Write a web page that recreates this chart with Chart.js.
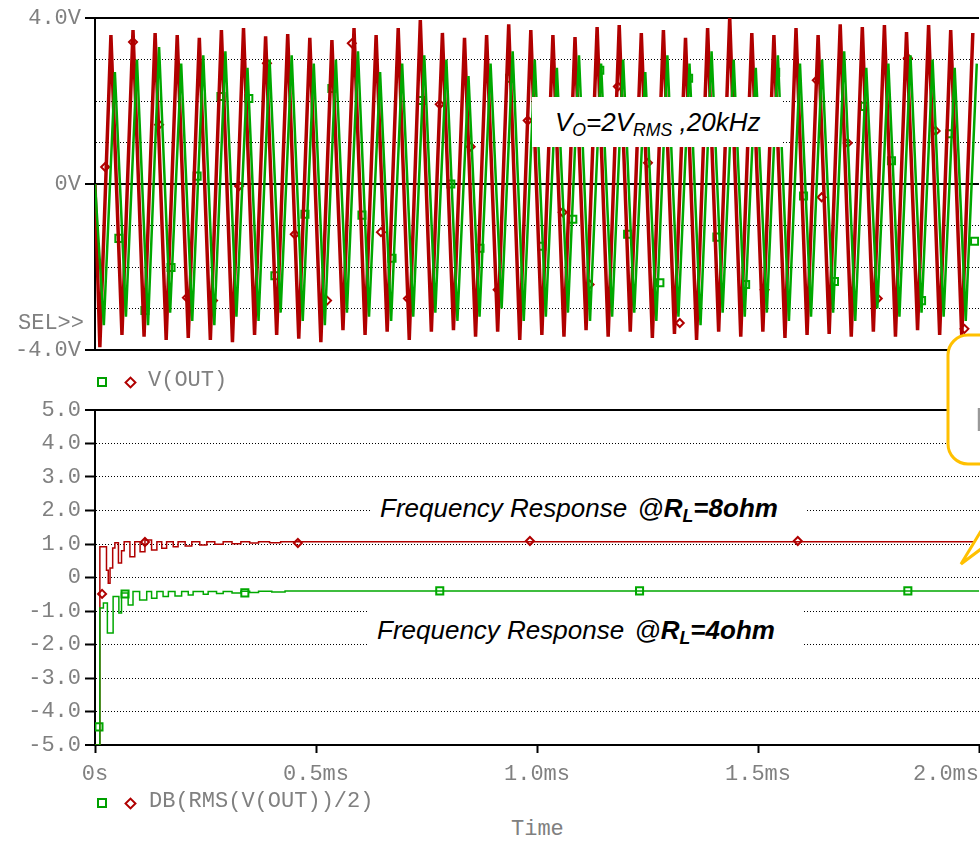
<!DOCTYPE html>
<html>
<head>
<meta charset="utf-8">
<script src="https://cdn.jsdelivr.net/npm/chart.js@4.4.0/dist/chart.umd.min.js"></script>
<style>
  html, body { margin: 0; padding: 0; background: #fff; }
  body { width: 980px; height: 842px; position: relative; overflow: hidden; }
  canvas { position: absolute; left: 0; }
  #topChart { top: 0; }
  #botChart { top: 390px; }
  .mono { position: absolute; font-family: 'Liberation Mono', monospace; font-size: 22px; line-height: 22px; color: #808080; white-space: pre; }
  .sq { position: absolute; width: 6px; height: 6px; border: 2px solid #00a000; }
  .dm { position: absolute; width: 5px; height: 5px; border: 2px solid #b00000; transform: rotate(45deg); }
  .note { position: absolute; background: #fff; font-family: 'Liberation Sans', Arial, sans-serif; font-style: italic; color: #000; white-space: nowrap; }
  .note sub { font-size: 0.68em; vertical-align: -0.3em; line-height: 0; }
  .note b { font-weight: bold; }
</style>
</head>
<body>
<canvas id="topChart" width="980" height="360"></canvas>
<canvas id="botChart" width="980" height="400"></canvas>

<div class="mono" style="left:18px;top:313px">SEL&gt;&gt;</div>

<div class="sq" style="left:97px;top:377px"></div>
<div class="dm" style="left:126px;top:378px"></div>
<div class="mono" style="left:148px;top:370px">V(OUT)</div>

<div class="sq" style="left:97px;top:798px"></div>
<div class="dm" style="left:126px;top:799px"></div>
<div class="mono" style="left:149px;top:791px">DB(RMS(V(OUT))/2)</div>

<div class="mono" style="left:511px;top:819px">Time</div>

<div class="note" style="left:532px;top:97px;width:228px;height:50px;padding-left:23px;line-height:50px;font-size:26px">V<sub>O</sub>=2V<sub>RMS</sub> ,20kHz</div>
<div class="note" style="left:370px;top:488px;width:425px;height:40px;padding-left:10px;line-height:40px;font-size:26px">Frequency Response <span style="margin-left:3px">@</span><b>R<sub>L</sub>=8ohm</b></div>
<div class="note" style="left:368px;top:604px;width:425px;height:52px;padding-left:9px;line-height:52px;font-size:26px">Frequency Response <span style="margin-left:3px">@</span><b>R<sub>L</sub>=4ohm</b></div>

<svg style="position:absolute;left:0;top:0" width="980" height="842">
  <rect x="948" y="335" width="80" height="129" rx="20" ry="20" fill="#fff" stroke="#ffc000" stroke-width="3"/>
  <polyline points="981,531 961,564 981,549" fill="#fff" stroke="#ffc000" stroke-width="3"/>
</svg>
<div class="note" style="left:975px;top:400px;font-size:34px;font-style:normal;color:#999;background:none">D</div>

<script>
// top panel: V(OUT), 20 kHz, one peak / trough per cycle (volts)
const period = 0.05; // ms
const redPeaks = [3.59, 3.71, 3.64, 3.59, 3.52, 3.71, 3.76, 3.56, 3.61, 3.52,
                  3.47, 3.76, 3.59, 3.76, 3.95, 3.64, 3.52, 3.59, 3.85, 3.71,
                  3.59, 3.54, 3.78, 3.83, 3.64, 3.71, 3.52, 3.76, 4.02, 3.64,
                  3.59, 3.76, 3.59, 3.85, 3.78, 3.83, 3.66, 3.83, 3.71, 3.64];
const redTroughs = [-3.93, -3.64, -3.68, -3.76, -3.71, -3.76, -3.81, -3.64, -3.64, -3.73,
                    -3.81, -3.52, -3.64, -3.56, -3.76, -3.56, -3.52, -3.68, -3.56, -3.76,
                    -3.64, -3.68, -3.52, -3.68, -3.56, -3.71, -3.61, -3.76, -3.56, -3.68,
                    -3.56, -3.71, -3.64, -3.61, -3.68, -3.56, -3.68, -3.52, -3.64, -3.68];
const greenPeaks = [2.7, 3.0, 3.3, 2.9, 3.1, 3.2, 2.8, 3.0, 3.1, 2.9,
                    3.0, 3.2, 2.7, 2.9, 3.1, 3.0, 2.6, 2.9, 3.2, 3.0,
                    2.8, 3.1, 2.9, 3.0, 2.7, 3.1, 2.9, 3.2, 3.0, 2.8,
                    3.1, 2.9, 3.0, 3.2, 2.8, 2.9, 3.1, 3.0, 2.8, 2.9];
const greenTroughs = [-3.4, -3.2, -3.4, -3.1, -3.3, -3.4, -3.2, -3.3, -3.1, -3.3,
                      -3.4, -3.1, -3.2, -3.3, -3.2, -3.1, -3.3, -3.2, -3.0, -3.3,
                      -3.2, -3.1, -3.3, -3.2, -3.1, -3.3, -3.2, -3.4, -3.1, -3.2,
                      -3.1, -3.3, -3.2, -3.1, -3.3, -3.0, -3.2, -3.1, -3.2, -3.3];

// marker symbols on the top traces (ms, V)
const redMarkTopT = [0.023, 0.086, 0.145, 0.208, 0.267, 0.326, 0.389, 0.452, 0.525, 0.581, 0.647, 0.708, 0.780, 0.850, 0.911,
                     0.979, 1.058, 1.119, 1.183, 1.251, 1.323, 1.515, 1.633, 1.644, 1.703, 1.771, 1.839, 1.902, 1.967];
const redMarkTopV = [0.41, 3.42, 1.43, -2.74, -2.81, -0.05, 2.91, -1.21, -2.81, 3.39, -1.16, -2.76, 1.92, 0.90, -2.55,
                     1.53, -0.68, -2.42, 2.35, 0.51, -3.35, -2.55, 2.50, -0.32, 0.99, -2.76, 3.03, 1.28, -3.49];
const greenMarkTopT = [0.054, 0.113, 0.172, 0.231, 0.285, 0.348, 0.407, 0.475, 0.536, 0.604, 0.672, 0.739, 0.805, 0.871, 0.938, 1.011,
                       1.081, 1.142, 1.205, 1.278, 1.343, 1.407, 1.472, 1.540, 1.603, 1.673, 1.741, 1.802, 1.870, 1.934, 1.990];
const greenMarkTopV = [-1.31, -3.05, -2.01, 0.19, 2.11, 2.06, -2.21, -0.73, 2.30, -0.75, -1.79, 2.01, 0.00, -1.55, 2.55, -1.50,
                       -0.85, 2.74, -1.21, -2.38, 2.55, -1.28, -2.42, 2.69, -0.29, -2.35, 1.87, 0.56, -2.81, 1.21, -1.38];

// bottom panel: DB(RMS(V(OUT))/2)
const rl8Time = [0, 0.011, 0.026, 0.030, 0.034, 0.040, 0.045, 0.053, 0.060, 0.066, 0.079, 0.090, 0.102, 0.113, 0.128, 0.140,
                 0.151, 0.162, 0.177, 0.188, 0.204, 0.219, 0.237, 0.253, 0.271, 0.290, 0.310, 0.330, 0.350, 0.370, 0.395, 0.420, 2.0];
const rl8Db = [-5, 0.92, 0.22, -0.17, 0.28, 0.88, 1.04, 0.43, 0.80, 1.07, 0.62, 1.07, 0.77, 1.12, 0.82, 1.07,
               0.87, 1.07, 0.92, 1.07, 0.94, 1.07, 0.97, 1.07, 0.99, 1.07, 1.01, 1.07, 1.03, 1.07, 1.04, 1.07, 1.08];
const rl4Time = [0, 0.011, 0.019, 0.028, 0.041, 0.054, 0.060, 0.075, 0.086, 0.101, 0.117, 0.128, 0.140, 0.154, 0.166,
                 0.181, 0.196, 0.211, 0.222, 0.245, 0.256, 0.275, 0.290, 0.310, 0.330, 0.350, 0.370, 0.400, 0.430, 2.0];
const rl4Db = [-5, -0.91, -0.76, -1.66, -0.57, -1.06, -0.46, -0.82, -0.42, -0.67, -0.42, -0.62, -0.42, -0.57, -0.42,
               -0.55, -0.42, -0.52, -0.42, -0.50, -0.42, -0.48, -0.42, -0.46, -0.41, -0.45, -0.41, -0.43, -0.40, -0.40];
const rl8MarkT = [0.016, 0.113, 0.459, 0.984, 1.590];
const rl8MarkV = [-0.49, 1.06, 1.03, 1.09, 1.09];
const rl4MarkT = [0.009, 0.068, 0.339, 0.780, 1.232, 1.839];
const rl4MarkV = [-4.46, -0.49, -0.46, -0.40, -0.40, -0.40];

// tick labels
const topYLabels = ['-4.0V', '', '', '', '0V', '', '', '', '4.0V'];
const botYLabels = ['-5.0', '-4.0', '-3.0', '-2.0', '-1.0', '0', '1.0', '2.0', '3.0', '4.0', '5.0'];
const xTickLabels = ['0s', '0.5ms', '1.0ms', '1.5ms', '2.0ms'];

const RED = '#b00000';
const GREEN = '#00a800';
const monoFont = { family: 'Liberation Mono', size: 22 };
const tickGrey = '#808080';

function wave(peaks, troughs, troughAt, peakAt) {
    const pts = [{ x: 0, y: 0 }];
    for (let i = 0; i < peaks.length; i++) {
        pts.push({ x: troughAt + i * period, y: troughs[i] });
        pts.push({ x: peakAt + i * period, y: peaks[i] });
    }
    return pts;
}
function pairs(xs, ys) {
    return xs.map((x, i) => ({ x: x, y: ys[i] }));
}
function markers(xs, ys, color, style, r) {
    return { data: pairs(xs, ys), showLine: false, pointStyle: style, pointRadius: r,
             borderColor: color, pointBorderColor: color, pointBorderWidth: 2,
             pointBackgroundColor: 'rgba(0,0,0,0)' };
}
// no automatic label padding, the plot area is fixed
function noPad(s) {
    s.paddingLeft = 0; s.paddingRight = 0; s.paddingTop = 0; s.paddingBottom = 0;
}
function yAxis(min, max, labels, isEdge) {
    return {
        min: min, max: max,
        afterFit: s => { s.width = 95; noPad(s); },
        ticks: { stepSize: 1, autoSkip: false, font: monoFont, color: tickGrey, padding: 4,
                 callback: v => labels[Math.round(v) - min] },
        grid: {
            color: '#000',
            lineWidth: c => (c.tick && isEdge(c.tick.value)) ? 2 : 1,
            tickLength: 10, tickWidth: 2,
            tickColor: c => labels[c.index] ? '#000' : 'rgba(0,0,0,0)'
        },
        border: { color: '#000', width: 2,
                  dash: c => (c.tick && !isEdge(c.tick.value)) ? [1, 2] : [] }
    };
}

new Chart(document.getElementById('topChart'), {
    type: 'line',
    data: {
        datasets: [
            { data: wave(greenPeaks, greenTroughs, 0.020, 0.045), borderColor: GREEN, borderWidth: 2.5, pointRadius: 0 },
            { data: wave(redPeaks, redTroughs, 0.011, 0.036), borderColor: RED, borderWidth: 3.5, pointRadius: 0 },
            markers(greenMarkTopT, greenMarkTopV, GREEN, 'rect', 5),
            markers(redMarkTopT, redMarkTopV, RED, 'rectRot', 4)
        ]
    },
    options: {
        responsive: false, animation: false,
        layout: { autoPadding: false, padding: { top: 18, bottom: 10, left: 0, right: 1 } },
        plugins: { legend: { display: false }, tooltip: { enabled: false } },
        scales: {
            x: { type: 'linear', min: 0, max: 2, display: false },
            y: yAxis(-4, 4, topYLabels, v => v === 0 || Math.abs(v) === 4)
        }
    }
});

new Chart(document.getElementById('botChart'), {
    type: 'line',
    data: {
        datasets: [
            { data: pairs(rl4Time, rl4Db), stepped: true, borderColor: GREEN, borderWidth: 1.5, pointRadius: 0 },
            { data: pairs(rl8Time, rl8Db), stepped: true, borderColor: RED, borderWidth: 1.5, pointRadius: 0 },
            markers(rl4MarkT, rl4MarkV, GREEN, 'rect', 5),
            markers(rl8MarkT, rl8MarkV, RED, 'rectRot', 4)
        ]
    },
    options: {
        responsive: false, animation: false,
        layout: { autoPadding: false, padding: { top: 20, bottom: 0, left: 0, right: 1 } },
        plugins: { legend: { display: false }, tooltip: { enabled: false } },
        scales: {
            x: {
                type: 'linear', min: 0, max: 2,
                afterFit: s => { s.height = 45; noPad(s); },
                ticks: { stepSize: 0.5, autoSkip: false, maxRotation: 0, minRotation: 0,
                         font: monoFont, color: tickGrey, padding: 8,
                         callback: (v, i) => i === xTickLabels.length - 1 ? xTickLabels[i] + '     ' : xTickLabels[i] },
                grid: { drawOnChartArea: false, color: '#000', tickLength: 8, tickWidth: 2 },
                border: { color: '#000', width: 2 }
            },
            y: yAxis(-5, 5, botYLabels, v => Math.abs(v) === 5)
        }
    }
});
</script>
</body>
</html>
